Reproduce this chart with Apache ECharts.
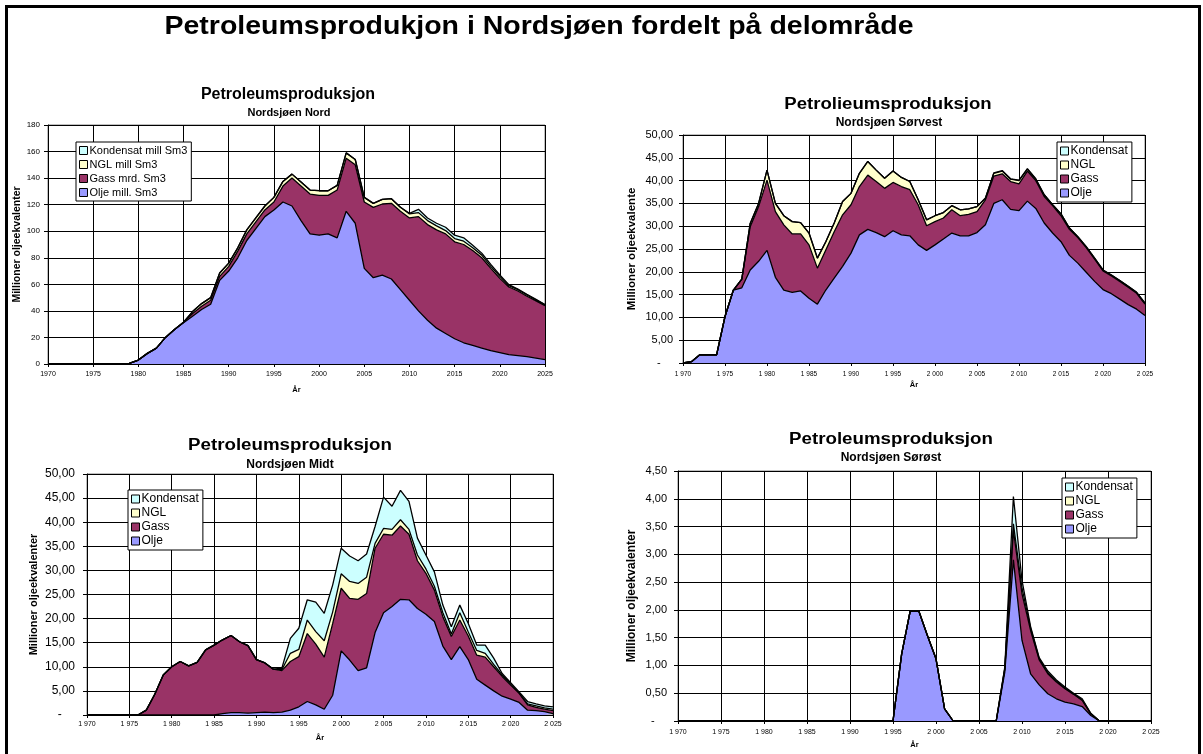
<!DOCTYPE html>
<html>
<head>
<meta charset="utf-8">
<title>Petroleumsproduksjon i Nordsjøen</title>
<script src="https://cdn.jsdelivr.net/npm/echarts@6.0.0/dist/echarts.min.js"></script>
<style>
  html, body { margin: 0; padding: 0; background: #fff; }
  #chart { width: 1203px; height: 754px; }
</style>
</head>
<body>
<div id="chart"></div>
<script>
const years = [
  1970, 1971, 1972, 1973, 1974, 1975, 1976, 1977, 1978, 1979,
  1980, 1981, 1982, 1983, 1984, 1985, 1986, 1987, 1988, 1989,
  1990, 1991, 1992, 1993, 1994, 1995, 1996, 1997, 1998, 1999,
  2000, 2001, 2002, 2003, 2004, 2005, 2006, 2007, 2008, 2009,
  2010, 2011, 2012, 2013, 2014, 2015, 2016, 2017, 2018, 2019,
  2020, 2021, 2022, 2023, 2024, 2025
];

// Nordsjøen Nord (layer values, stacked)
const nordOlje = [
  0, 0, 0, 0, 0, 0, 0, 0, 0, 0.5,
  3, 8, 12, 20, 26, 31, 36, 41, 45, 63,
  70, 80, 93, 102, 111, 116, 122, 119, 108, 98,
  97, 98, 95, 115, 106, 72, 65, 67, 64, 56,
  48, 40, 33, 27, 23, 19, 16, 14, 12, 10,
  8.5, 7, 6.3, 5.5, 4.5, 3.3
];
const nordGass = [
  0, 0, 0, 0, 0, 0, 0, 0, 0, 0,
  0, 0, 0, 0, 0, 0.5, 2, 2.5, 3, 3,
  3.5, 5, 5, 5, 5, 6, 12, 21, 26, 30,
  30, 29, 36, 40, 44, 50, 53, 53.5, 57, 59,
  62, 71, 72, 74, 75, 73, 74, 71.5, 68, 62,
  56, 51, 48.7, 45.5, 43, 40.7
];
const nordNGL = [
  0, 0, 0, 0, 0, 0, 0, 0, 0, 0,
  0, 0, 0, 0, 0, 0, 1.5, 2, 2, 2.5,
  2.5, 2.5, 3, 3, 3, 3.5, 3.5, 3, 3, 3,
  3.5, 3.5, 3.5, 4, 4, 3.5, 3, 3.5, 3.5, 3,
  3, 3, 3, 3, 2.5, 2.5, 2.5, 2, 2, 1.5,
  1.5, 1, 1, 1, 0.8, 0.5
];
const nordKond = [
  0, 0, 0, 0, 0, 0, 0, 0, 0, 0,
  0, 0, 0, 0, 0, 0, 0, 0, 0, 0,
  0, 0, 0, 0, 0, 0, 0, 0, 0, 0,
  0, 0, 0, 0, 0, 0, 0, 0, 0, 0,
  0.5, 2.5, 2, 2, 2.5, 2.5, 2.5, 2, 1.5, 1.5,
  1, 0.8, 0.5, 0.5, 0.4, 0.3
];

// Nordsjøen Sørvest
const sorvestOlje = [
  0, 0.3, 1.8, 1.8, 1.8, 10.2, 16, 16.5, 20.4, 22.3,
  24.7, 18.8, 16, 15.5, 15.8, 14.2, 12.9, 16, 18.6, 21.2,
  24.1, 28.1, 29.3, 28.6, 27.7, 29, 28.1, 27.9, 25.9, 24.7,
  25.9, 27.2, 28.5, 27.9, 27.9, 28.6, 30.3, 35, 35.8, 33.7,
  33.4, 35.5, 33.9, 30.7, 28.5, 26.6, 23.6, 21.9, 19.9, 17.9,
  16.1, 15.2, 14, 12.8, 11.8, 10.4
];
const sorvestGass = [
  0, 0, 0, 0, 0, 0, 0, 1.9, 9.5, 12,
  15.4, 14.4, 14.3, 12.8, 12.5, 11.7, 7.9, 8.8, 10.2, 11.3,
  10.6, 10.6, 11.9, 11.2, 10.6, 10.6, 10.6, 10.1, 8.8, 5.4,
  5.1, 4.6, 5.1, 4.4, 4.7, 4.6, 5.5, 6, 5.7, 6.1,
  5.9, 6.6, 6.1, 5.8, 6, 5.7, 5.7, 5.6, 5.4, 4.9,
  4.1, 3.9, 3.9, 3.8, 3.5, 2.5
];
const sorvestNGL = [
  0, 0, 0, 0, 0, 0, 0, 0, 0.7, 0.7,
  2.2, 1.8, 2, 2.7, 2.5, 2.6, 2.2, 1.8, 1.9, 2.9,
  2.5, 2.9, 3, 2.5, 2.2, 2.5, 2, 1.8, 1.1, 1.3,
  1.3, 1.2, 0.9, 1.3, 1.2, 1.1, 0.3, 0.6, 0.6, 0.5,
  0.7, 0.4, 0.3, 0.4, 0.2, 0.4, 0.3, 0.2, 0.2, 0.2,
  0.2, 0.2, 0.2, 0.2, 0.2, 0.2
];
const sorvestKond = [
  0, 0, 0, 0, 0, 0, 0, 0, 0, 0,
  0, 0, 0, 0, 0, 0, 0, 0, 0, 0,
  0, 0, 0, 0, 0, 0, 0, 0, 0, 0,
  0, 0, 0, 0, 0, 0, 0.1, 0.1, 0.1, 0.1,
  0.1, 0.1, 0.1, 0, 0, 0, 0, 0, 0, 0,
  0, 0, 0, 0, 0, 0
];

// Nordsjøen Midt
const midtOlje = [
  0, 0, 0, 0, 0, 0, 0, 0, 0, 0,
  0, 0, 0, 0, 0, 0, 0.3, 0.5, 0.5, 0.4,
  0.5, 0.6, 0.5, 0.6, 1, 1.7, 2.8, 2.1, 1.2, 4.1,
  13.3, 11.4, 9.2, 9.8, 17.1, 21.2, 22.5, 24, 23.9, 22.1,
  20.9, 19.4, 14.3, 11.5, 14.2, 11.5, 7.4, 6.2, 5, 3.9,
  3.3, 2.6, 1, 0.9, 0.7, 0.3
];
const midtGass = [
  0, 0, 0, 0, 0, 0, 0, 1, 4.3, 8.3,
  10, 11.1, 10.2, 10.9, 13.5, 14.5, 15.3, 16, 14.7, 14,
  11, 10.2, 9, 8.6, 10.1, 10.4, 14.1, 12.6, 10.8, 14.9,
  13, 12.8, 14.8, 15.4, 17.5, 16.3, 14.8, 15.2, 13.6, 9.9,
  8.5, 6.5, 6.1, 4.8, 5.5, 4.9, 5, 5.8, 5, 4.1,
  2.9, 1.9, 1.1, 0.7, 0.5, 0.6
];
const midtNGL = [
  0, 0, 0, 0, 0, 0, 0, 0, 0, 0,
  0, 0, 0, 0, 0, 0, 0, 0, 0, 0,
  0, 0, 0, 0.2, 1.7, 1.5, 2.8, 2.6, 3.4, 2.4,
  3, 3.5, 3.3, 3.4, 1, 1.2, 1.2, 1.3, 1, 1.2,
  0.9, 0.8, 0.8, 0.5, 1.5, 0.8, 1, 0.8, 0.5, 0.3,
  0.2, 0.1, 0.2, 0.3, 0.3, 0.3
];
const midtKond = [
  0, 0, 0, 0, 0, 0, 0, 0, 0, 0,
  0, 0, 0, 0, 0, 0, 0, 0, 0, 0,
  0, 0, 0, 0.3, 3.1, 4.4, 4.2, 6.1, 5.7, 5.6,
  5.3, 5.3, 4.7, 4.8, 3.5, 6.5, 4.8, 6.1, 5.8, 3.5,
  2.9, 3, 1.6, 1.5, 1.6, 1.8, 1.1, 1.7, 1.3, 0.3,
  0.3, 0.2, 0.5, 0.4, 0.4, 0.5
];

// Nordsjøen Sørøst
const sorostOlje = [
  0, 0, 0, 0, 0, 0, 0, 0, 0, 0,
  0, 0, 0, 0, 0, 0, 0, 0, 0, 0,
  0, 0, 0, 0, 0, 0, 1.2, 1.98, 1.98, 1.54,
  1.12, 0.22, 0, 0, 0, 0, 0, 0, 0.88, 2.9,
  1.45, 0.85, 0.65, 0.49, 0.4, 0.34, 0.31, 0.26, 0.1, 0,
  0, 0, 0, 0, 0, 0
];
const sorostGass = [
  0, 0, 0, 0, 0, 0, 0, 0, 0, 0,
  0, 0, 0, 0, 0, 0, 0, 0, 0, 0,
  0, 0, 0, 0, 0, 0, 0, 0, 0, 0,
  0, 0, 0, 0, 0, 0, 0, 0, 0.06, 0.53,
  0.84, 0.78, 0.45, 0.36, 0.3, 0.24, 0.17, 0.11, 0.03, 0,
  0, 0, 0, 0, 0, 0
];
const sorostNGL = [
  0, 0, 0, 0, 0, 0, 0, 0, 0, 0,
  0, 0, 0, 0, 0, 0, 0, 0, 0, 0,
  0, 0, 0, 0, 0, 0, 0, 0, 0, 0,
  0, 0, 0, 0, 0, 0, 0, 0, 0, 0.12,
  0.1, 0.04, 0.02, 0.02, 0.02, 0.01, 0.01, 0.01, 0, 0,
  0, 0, 0, 0, 0, 0
];
const sorostKond = [
  0, 0, 0, 0, 0, 0, 0, 0, 0, 0,
  0, 0, 0, 0, 0, 0, 0, 0, 0, 0,
  0, 0, 0, 0, 0, 0, 0, 0, 0, 0,
  0, 0, 0, 0, 0, 0, 0, 0, 0.03, 0.49,
  0.14, 0.03, 0.02, 0.03, 0.02, 0.02, 0.01, 0.02, 0.01, 0,
  0, 0, 0, 0, 0, 0
];

const namesNord = ['Olje mill. Sm3', 'Gass mrd. Sm3', 'NGL mill Sm3', 'Kondensat mill Sm3'];
const namesShort = ['Olje', 'Gass', 'NGL', 'Kondensat'];

const FONT = '"Liberation Sans", Arial, sans-serif';
const fillColors = ['#9999ff', '#993366', '#ffffcc', '#ccffff'];

const chart = echarts.init(document.getElementById('chart'));

// one stacked area series per layer
function layers(idx, names, data) {
  return data.map((d, i) => ({
    name: names[i],
    type: 'line',
    stack: 'total' + idx,
    xAxisIndex: idx,
    yAxisIndex: idx,
    data: d,
    symbol: 'none',
    lineStyle: { color: '#000', width: 1.3 },
    itemStyle: { color: fillColors[i] },
    areaStyle: { color: fillColors[i], opacity: 1 },
    emphasis: { disabled: true }
  }));
}

const yearSpaced = v => String(v).slice(0, 1) + ' ' + String(v).slice(1);
const decimal = v => (v === 0 ? '-    ' : v.toFixed(2).replace('.', ','));

function xAxisFor(idx, fmt, fontSize, margin, nameGap) {
  return {
    type: 'category', gridIndex: idx, data: years, boundaryGap: false,
    name: 'År', nameLocation: 'middle', nameGap: nameGap,
    nameTextStyle: { fontSize: 7.5, fontWeight: 'bold', color: '#000' },
    axisLine: { lineStyle: { color: '#000', width: 1 } },
    axisTick: { interval: 4, length: 3, lineStyle: { color: '#000' } },
    axisLabel: { interval: 4, fontSize: fontSize, color: '#000', margin: margin, formatter: fmt },
    splitLine: { show: true, interval: 4, lineStyle: { color: '#000', width: 1 } }
  };
}

function yAxisFor(idx, max, interval, fmt, fontSize, margin, name, nameSize, nameGap) {
  return {
    type: 'value', gridIndex: idx, min: 0, max: max, interval: interval,
    name: name, nameLocation: 'middle', nameGap: nameGap, nameRotate: 90,
    nameTextStyle: { fontSize: nameSize, fontWeight: 'bold', color: '#000' },
    axisLine: { show: true, lineStyle: { color: '#000', width: 1 } },
    axisTick: { show: true, length: 4, lineStyle: { color: '#000' } },
    axisLabel: { fontSize: fontSize, color: '#000', margin: margin, formatter: fmt },
    splitLine: { lineStyle: { color: '#000', width: 1 } }
  };
}

function legendFor(names, left, top, fontSize, gap) {
  return {
    data: names.slice().reverse(),
    orient: 'vertical', left: left, top: top,
    icon: 'rect', itemWidth: 8, itemHeight: 8, itemGap: gap,
    padding: [3, 4, 3, 3],
    backgroundColor: '#fff', borderColor: '#000', borderWidth: 1, borderRadius: 0,
    itemStyle: { borderColor: '#000', borderWidth: 1 },
    textStyle: { fontSize: fontSize, color: '#000', padding: [0, 0, 0, -3] },
    selectedMode: false
  };
}

function titleText(text, x, y, size, scaleX) {
  return {
    type: 'text', x: x, y: y, scaleX: scaleX || 1, z: 50,
    style: {
      text: text, font: 'bold ' + size + 'px ' + FONT, fill: '#000',
      align: 'center', verticalAlign: 'middle',
      textAlign: 'center', textVerticalAlign: 'middle'
    }
  };
}

const option = {
  animation: false,
  backgroundColor: '#fff',
  textStyle: { fontFamily: FONT },
  grid: [
    { left: 48, top: 125, width: 497, height: 239 },
    { left: 683, top: 135, width: 462, height: 228 },
    { left: 87, top: 474, width: 466, height: 241 },
    { left: 678, top: 471, width: 473, height: 250 }
  ].map(g => Object.assign(g, { show: true, borderColor: '#808080', borderWidth: 1, backgroundColor: '#fff' })),
  xAxis: [
    xAxisFor(0, null, 7, 7, 22),
    xAxisFor(1, yearSpaced, 6.5, 8, 18),
    xAxisFor(2, yearSpaced, 7, 6, 19),
    xAxisFor(3, yearSpaced, 7, 8, 20)
  ],
  yAxis: [
    yAxisFor(0, 180, 20, null, 8, 8, 'Millioner oljeekvalenter', 10.5, 18),
    yAxisFor(1, 50, 5, decimal, 11, 10, 'Millioner oljeekvalente', 11.5, 45),
    yAxisFor(2, 50, 5, decimal, 12, 12, 'Millioner oljeekvalenter', 11, 48),
    yAxisFor(3, 4.5, 0.5, decimal, 11, 11, 'Millioner oljeekvalenter', 12, 40)
  ],
  legend: [
    legendFor(namesNord, 76, 142, 11, 3),
    legendFor(namesShort, 1057, 142, 12, 2),
    legendFor(namesShort, 128, 490, 12, 2),
    legendFor(namesShort, 1062, 478, 12, 2)
  ],
  graphic: [
    { type: 'rect', z: 60, shape: { x: 6.5, y: 6.5, width: 1193, height: 760 },
      style: { fill: 'none', stroke: '#000', lineWidth: 3 } },
    titleText('Petroleumsprodukjon i Nordsjøen fordelt på delområde', 539, 27, 25, 1.14),
    titleText('Petroleumsproduksjon', 288, 95, 16),
    titleText('Nordsjøen Nord', 289, 113, 11),
    titleText('Petrolieumsproduksjon', 888, 105, 16, 1.16),
    titleText('Nordsjøen Sørvest', 889, 123, 12),
    titleText('Petroleumsproduksjon', 290, 446, 16, 1.17),
    titleText('Nordsjøen Midt', 290, 465, 12),
    titleText('Petroleumsproduksjon', 891, 440, 16, 1.17),
    titleText('Nordsjøen Sørøst', 891, 458, 12)
  ],
  series: [].concat(
    layers(0, namesNord, [nordOlje, nordGass, nordNGL, nordKond]),
    layers(1, namesShort, [sorvestOlje, sorvestGass, sorvestNGL, sorvestKond]),
    layers(2, namesShort, [midtOlje, midtGass, midtNGL, midtKond]),
    layers(3, namesShort, [sorostOlje, sorostGass, sorostNGL, sorostKond])
  )
};

chart.setOption(option);
window.addEventListener('resize', () => chart.resize());
</script>
</body>
</html>
